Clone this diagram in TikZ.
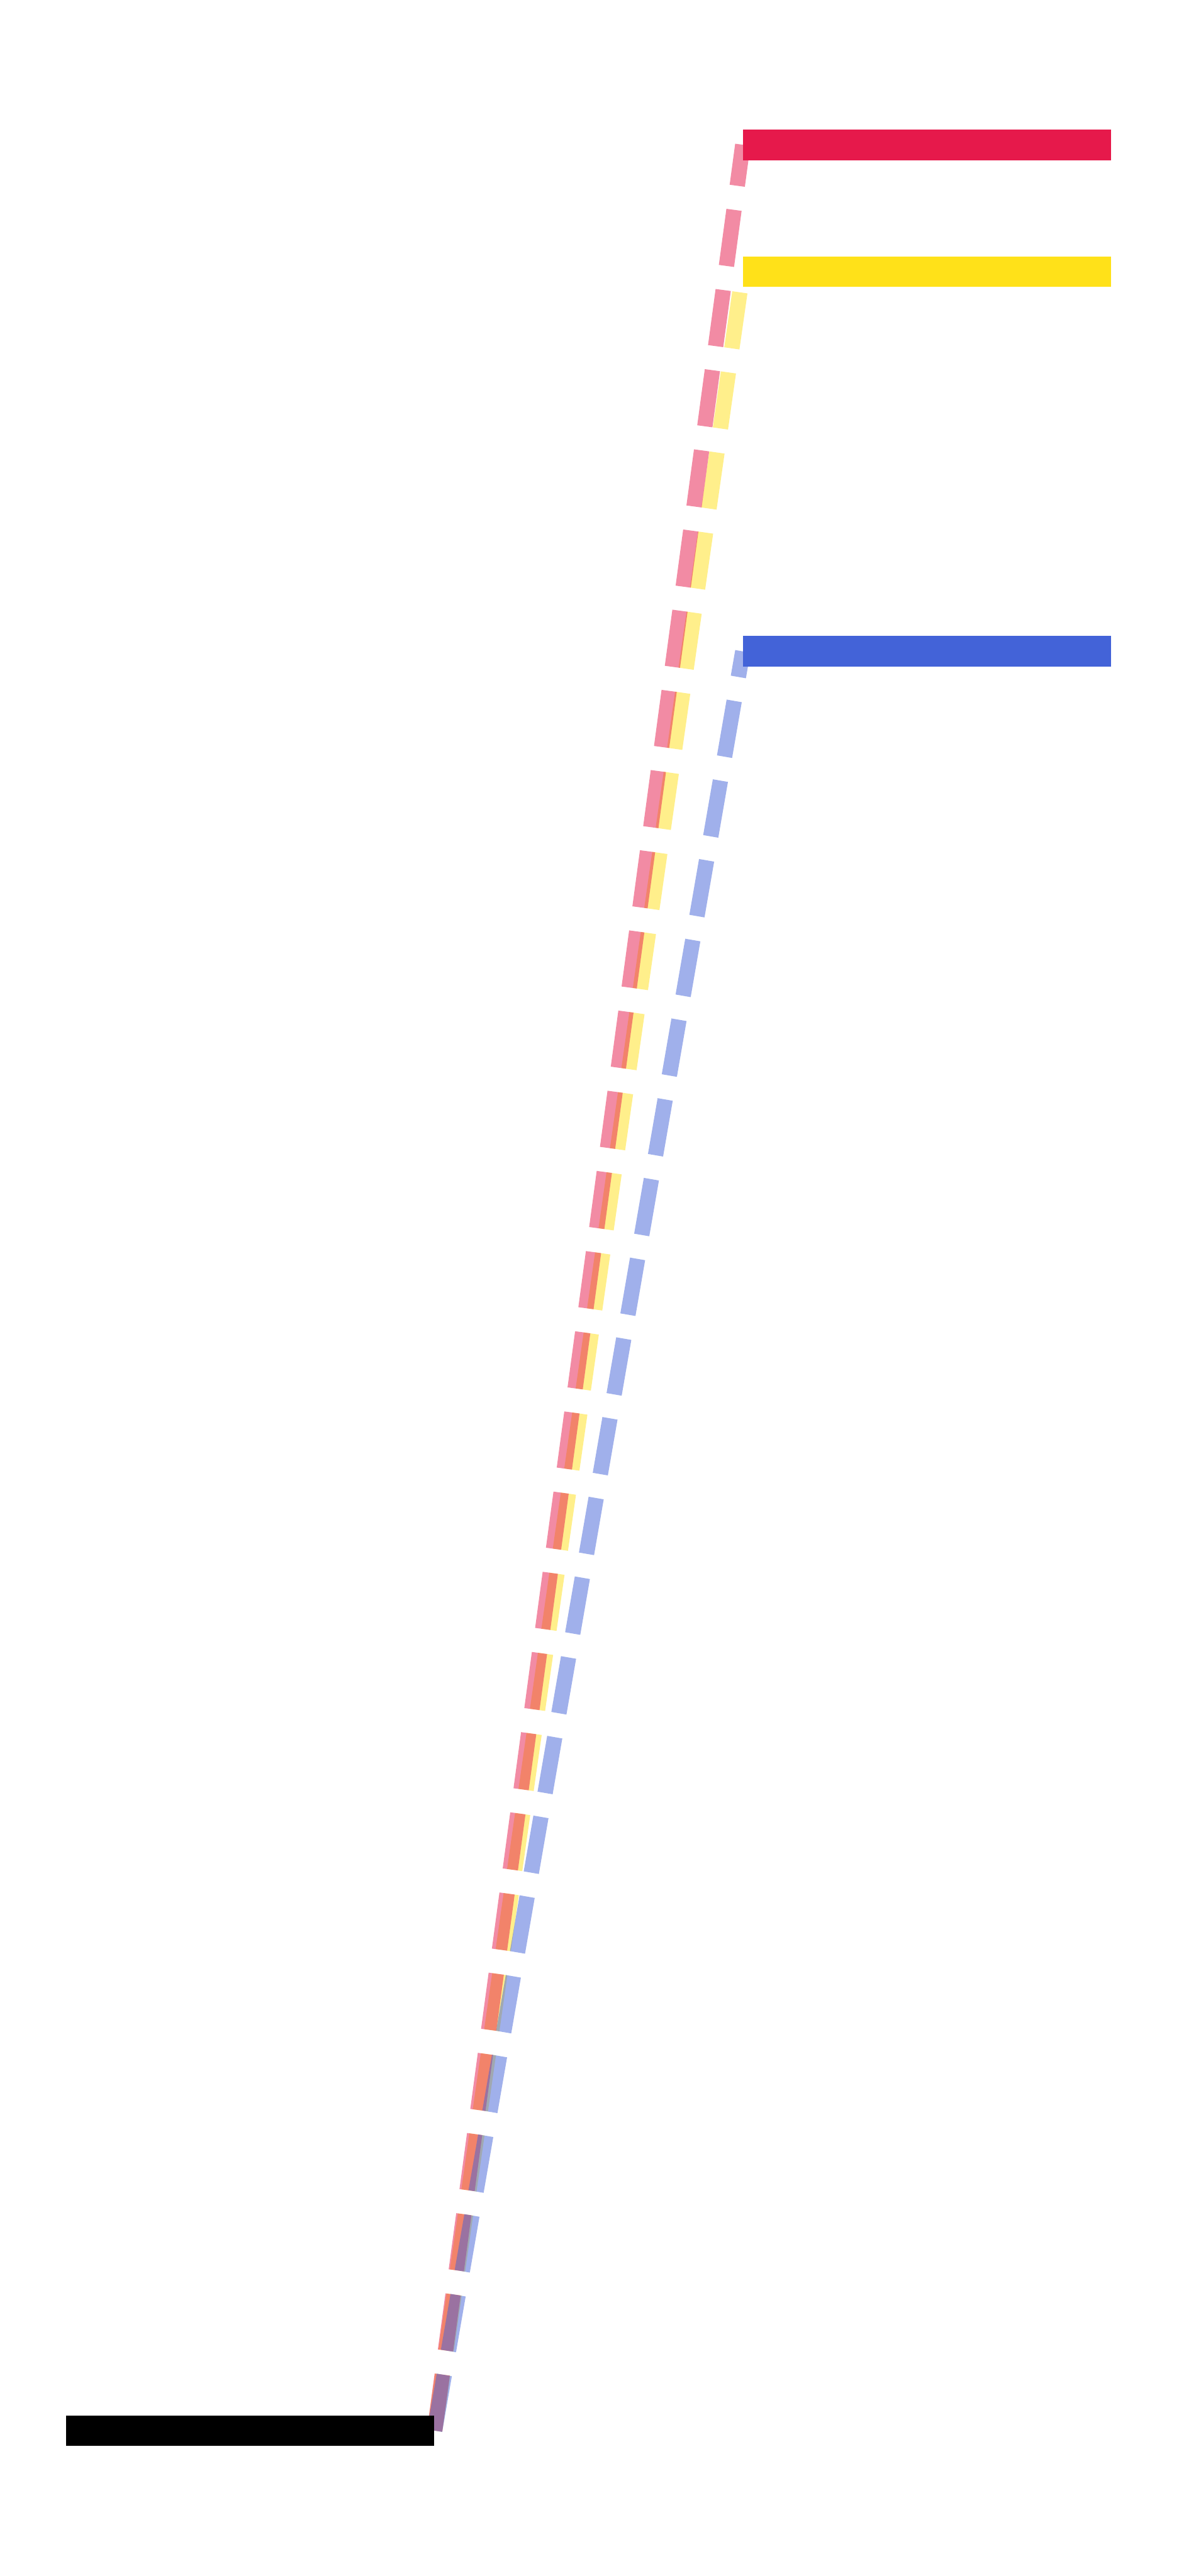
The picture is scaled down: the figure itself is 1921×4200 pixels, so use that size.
\documentclass[tikz,border=0pt]{standalone}
\definecolor{barred}{HTML}{E6194B}
\definecolor{baryellow}{HTML}{FFE119}
\definecolor{barblue}{HTML}{4363D8}
\pgfdeclarelayer{paper}
\pgfdeclarelayer{links}
\pgfsetlayers{paper,links,main}
\tikzset{
  bar/.style={rectangle, inner sep=0pt, minimum width=300pt, minimum height=25pt, draw=none},
  link/.style={line width=12.5pt, draw opacity=0.5, dash pattern=on 46.15pt off 19.8pt, line cap=butt}
}
\begin{document}
\begin{tikzpicture}[x=0.5pt, y=-0.5pt]
\begin{pgfonlayer}{paper}
\fill[white] (0,0) rectangle (1921,4200);
\end{pgfonlayer}
\useasboundingbox (0,0) rectangle (1921,4200);
\node[bar, fill=barred]    (red)    at (1511,236)  {};
\node[bar, fill=baryellow] (yellow) at (1511,443)  {};
\node[bar, fill=barblue]   (blue)   at (1511,1062) {};
\node[bar, fill=black]     (base)   at (408,3963)  {};
\begin{pgfonlayer}{links}
\draw[link, baryellow] (base.east) -- (yellow.west);
\draw[link, barred]    (base.east) -- (red.west);
\draw[link, barblue]   (base.east) -- (blue.west);
\end{pgfonlayer}
\end{tikzpicture}
\end{document}
